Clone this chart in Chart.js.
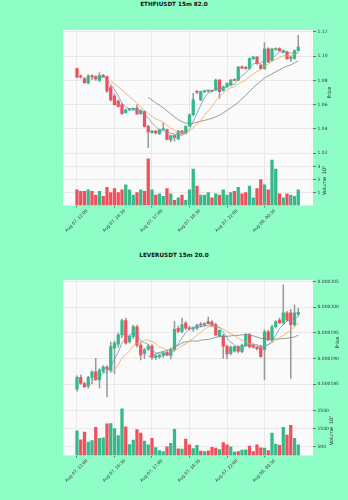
<!DOCTYPE html>
<html>
<head>
<meta charset="utf-8">
<script src="https://cdn.jsdelivr.net/npm/chart.js@4.4.1/dist/chart.umd.min.js"></script>
<style>
  body { margin: 0; width: 348px; height: 500px; overflow: hidden; background: #8ffdc6; position: relative; font-family: 'DejaVu Sans', sans-serif; }
  .fig { position: absolute; left: 0; width: 348px; height: 250px; }
  .fig canvas { position: absolute; left: 0; top: 0; }
  .title { position: absolute; left: 0; width: 348px; text-align: center; font-weight: bold; font-size: 5.7px; color: #111; }
</style>
</head>
<body>
<div class="fig" style="top:0"><div class="title" style="top:1px">ETHFIUSDT 15m 82.0</div><canvas id="eth" width="348" height="250"></canvas></div>
<div class="fig" style="top:250px"><div class="title" style="top:2px">LEVERUSDT 15m 20.0</div><canvas id="lever" width="348" height="250"></canvas></div>
<script>
const UP = '#35b88a', DOWN = '#f0505c', WICK = '#9a9a9a';
const MA_PERIODS = [5, 10, 20];
const MA_COLORS = ['#5f9cc2', '#f2a55a', '#6e8b80'];

const TICK_POS = [0, 10, 20, 30, 40, 50];
const TICK_LABELS = ['Aug 07, 12:00', 'Aug 07, 14:30', 'Aug 07, 17:00', 'Aug 07, 19:30', 'Aug 07, 22:00', 'Aug 08, 00:30'];

// ETHFIUSDT
const ETH_OPEN = [1.0896,1.0835,1.0815,1.0778,1.0838,1.0830,1.0800,1.0842,1.0830,1.0740,
  1.0670,1.0630,1.0600,1.0535,1.0556,1.0560,1.0571,1.0525,1.0544,1.0422,
  1.0370,1.0382,1.0360,1.0395,1.0395,1.0310,1.0345,1.0318,1.0382,1.0365,
  1.0425,1.0517,1.0710,1.0640,1.0705,1.0712,1.0716,1.0720,1.0802,1.0718,
  1.0747,1.0762,1.0806,1.0802,1.0912,1.0905,1.0898,1.0978,1.0991,1.0925,
  1.0896,1.1059,1.0964,1.1052,1.1062,1.1032,1.1032,1.0978,1.0980,1.1045];
const ETH_HIGH = [1.0902,1.0845,1.0822,1.0848,1.0845,1.0838,1.0862,1.0850,1.0835,1.0760,
  1.0690,1.0640,1.0610,1.0565,1.0570,1.0575,1.0598,1.0560,1.0550,1.0430,
  1.0388,1.0390,1.0400,1.0449,1.0400,1.0350,1.0355,1.0390,1.0388,1.0428,
  1.0525,1.0693,1.0718,1.0712,1.0720,1.0722,1.0722,1.0810,1.0808,1.0752,
  1.0780,1.0808,1.0812,1.0915,1.0920,1.0915,1.0985,1.1000,1.0998,1.0932,
  1.1110,1.1070,1.1065,1.1068,1.1070,1.1050,1.1040,1.0998,1.1050,1.1170];
const ETH_LOW = [1.0820,1.0818,1.0775,1.0770,1.0805,1.0800,1.0790,1.0825,1.0700,1.0630,
  1.0595,1.0580,1.0520,1.0530,1.0550,1.0555,1.0518,1.0520,1.0418,1.0246,
  1.0365,1.0360,1.0355,1.0390,1.0310,1.0295,1.0300,1.0312,1.0358,1.0360,
  1.0420,1.0510,1.0690,1.0635,1.0700,1.0705,1.0705,1.0715,1.0653,1.0710,
  1.0740,1.0755,1.0795,1.0798,1.0895,1.0890,1.0892,1.0970,1.0930,1.0890,
  1.0890,1.0945,1.0958,1.1048,1.1040,1.1025,1.0972,1.0955,1.0975,1.1040];
const ETH_CLOSE = [1.0826,1.0828,1.0780,1.0835,1.0830,1.0812,1.0842,1.0830,1.0710,1.0640,
  1.0600,1.0585,1.0525,1.0555,1.0566,1.0570,1.0523,1.0550,1.0422,1.0376,
  1.0382,1.0368,1.0395,1.0403,1.0314,1.0345,1.0330,1.0382,1.0362,1.0420,
  1.0517,1.0639,1.0702,1.0707,1.0715,1.0718,1.0710,1.0802,1.0707,1.0747,
  1.0775,1.0802,1.0800,1.0910,1.0900,1.0898,1.0978,1.0991,1.0937,1.0896,
  1.1059,1.0951,1.1059,1.1060,1.1045,1.1045,1.0978,1.0992,1.1045,1.1073];
const ETH_VOLUME = [1.2,1.1,1.1,1.2,1.1,0.8,1.1,0.7,1.4,1.0,
  1.3,1.0,1.2,1.6,1.2,0.8,1.0,1.2,1.1,3.6,
  1.2,0.8,0.9,0.7,1.3,0.9,0.4,0.6,0.8,0.4,
  1.2,2.8,1.5,0.8,0.8,1.0,0.6,0.9,0.8,1.2,
  0.8,1.0,1.1,1.4,0.9,1.0,1.5,0.6,1.3,2.0,
  1.6,1.2,3.5,2.8,0.9,0.6,0.9,0.8,0.7,1.2];
const ETH_PRICE_TICKS = [1.02, 1.04, 1.06, 1.08, 1.10, 1.12];
const ETH_PRICE_LABELS = ['1.02', '1.04', '1.06', '1.08', '1.10', '1.12'];
const ETH_VOL_TICKS = [1, 2, 3];
const ETH_VOL_LABELS = ['1', '2', '3'];

// LEVERUSDT (prices in 1e-6)
const LEVER_OPEN = [184.0,186.3,185.1,184.6,186.3,187.4,185.8,187.5,188.3,187.7,
  192.0,192.8,194.6,197.4,193.3,194.3,196.2,192.6,191.0,191.8,
  192.4,190.2,190.3,190.6,191.2,190.6,191.7,195.9,195.3,196.9,
  196.0,195.8,195.9,196.7,196.5,197.2,197.1,196.6,194.4,194.4,
  192.4,191.0,191.4,192.3,191.3,192.5,194.6,192.6,192.3,192.3,
  191.7,195.2,193.6,196.2,197.5,197.0,198.9,198.9,196.6,198.6];
const LEVER_HIGH = [186.6,186.8,185.4,186.5,187.6,190.0,188.0,188.6,188.6,193.2,
  193.4,195.0,197.7,197.9,194.6,196.5,196.5,193.0,192.0,192.7,
  192.7,190.7,190.8,191.3,191.5,192.0,197.3,196.3,197.9,197.2,
  196.3,196.2,196.7,197.0,197.0,198.1,197.4,196.9,195.6,194.7,
  192.6,192.4,192.4,192.5,192.8,194.8,194.9,192.9,192.4,192.6,
  195.6,195.5,196.5,197.4,197.9,204.4,199.2,199.6,200.5,199.8];
const LEVER_LOW = [183.6,184.9,184.3,184.2,185.0,185.7,184.2,187.2,182.5,187.3,
  187.0,192.2,194.0,192.8,193.0,193.9,192.2,189.7,190.0,191.5,
  189.8,189.8,190.0,190.2,190.5,189.9,191.4,195.0,195.0,195.6,
  195.5,195.3,195.6,196.2,196.3,196.8,196.3,194.4,194.2,190.0,
  189.9,190.7,191.2,191.1,191.1,192.3,192.0,192.0,191.6,190.2,
  185.8,193.4,193.3,195.9,196.8,196.6,197.3,186.1,196.3,198.3];
const LEVER_CLOSE = [186.3,185.1,184.5,186.3,187.4,185.9,187.7,188.3,187.9,192.3,
  193.0,194.6,197.4,193.0,194.3,196.2,192.6,190.7,191.7,192.4,
  190.2,190.5,190.6,191.1,190.7,191.7,195.7,195.3,196.6,195.9,
  195.8,196.0,196.5,196.5,196.8,196.8,196.5,194.6,195.5,192.4,
  190.9,192.2,192.3,191.4,192.6,194.6,192.3,192.2,191.9,190.4,
  195.2,193.6,196.2,197.2,197.0,198.9,197.5,196.6,198.9,199.0];
const LEVER_VOLUME = [1370,870,1300,740,830,1570,960,980,1760,1780,
  1500,1110,2590,1590,610,850,1440,1240,800,590,
  960,440,280,220,480,670,1460,370,350,910,
  590,390,560,240,220,260,460,410,330,720,
  590,480,190,220,300,310,520,220,590,430,
  410,280,1240,630,560,1560,1130,1670,960,590];
const LEVER_PRICE_TICKS = [185, 190, 195, 200, 205];
const LEVER_PRICE_LABELS = ['0.000185', '0.000190', '0.000195', '0.000200', '0.000205'];
const LEVER_VOL_TICKS = [500, 1000, 1500, 2000, 2500];
const LEVER_VOL_LABELS = ['500', '1000', '1500', '2000', '2500'];

Chart.defaults.font.family = "'DejaVu Sans', sans-serif";

function sma(values, p) {
    return values.map((_, i) => {
        if (i < p - 1) return null;
        let s = 0;
        for (let k = i - p + 1; k <= i; k++) s += values[k];
        return s / p;
    });
}

const panelBg = {
    id: 'panelBg',
    beforeDraw(chart) {
        const {ctx, chartArea: a} = chart;
        ctx.save();
        ctx.fillStyle = '#fafafa';
        ctx.fillRect(a.left, a.top, a.right - a.left, a.bottom - a.top);
        ctx.restore();
    }
};

const axisTitles = {
    id: 'axisTitles',
    afterDraw(chart, args, opts) {
        const {ctx, scales} = chart;
        ctx.save();
        ctx.fillStyle = '#222';
        ctx.font = "4.8px 'DejaVu Sans'";
        ctx.textAlign = 'center';
        ctx.textBaseline = 'middle';
        opts.items.forEach(it => {
            const sc = scales[it.axis];
            ctx.save();
            ctx.translate(it.x, (sc.top + sc.bottom) / 2);
            ctx.rotate(-Math.PI / 2);
            ctx.fillText(it.text, 0, 0);
            ctx.restore();
        });
        ctx.restore();
    }
};

function drawFigure(id, s) {
    const idx = s.close.map((_, i) => i);
    const colors = idx.map(i => s.close[i] >= s.open[i] ? UP : DOWN);
    const grid = {color: '#e4e4e4', lineWidth: 0.8, tickLength: 3, tickColor: '#555'};

    const datasets = MA_PERIODS.map((p, k) => ({
        type: 'line', yAxisID: 'price', order: 0,
        data: sma(s.close, p).map((v, i) => ({x: i, y: v})),
        borderColor: MA_COLORS[k], borderWidth: 0.8, pointRadius: 0, fill: false
    }));
    datasets.push({
        type: 'bar', yAxisID: 'price', order: 1, grouped: false, barThickness: 2.6, minBarLength: 1,
        data: idx.map(i => ({x: i, y: [s.open[i], s.close[i]]})),
        backgroundColor: colors
    });
    datasets.push({
        type: 'bar', yAxisID: 'price', order: 2, grouped: false, barThickness: 0.9,
        data: idx.map(i => ({x: i, y: [s.low[i], s.high[i]]})),
        backgroundColor: WICK
    });
    datasets.push({
        type: 'bar', yAxisID: 'vol', order: 1, grouped: false, barThickness: 2.6,
        data: idx.map(i => ({x: i, y: s.volume[i]})),
        backgroundColor: colors
    });

    new Chart(document.getElementById(id), {
        type: 'bar',
        data: {datasets},
        plugins: [panelBg, axisTitles],
        options: {
            responsive: false,
            animation: false,
            devicePixelRatio: 1,
            layout: {padding: {left: 63, top: 30, right: 0, bottom: 0}},
            plugins: {
                legend: {display: false},
                tooltip: {enabled: false},
                axisTitles: {items: [
                    {axis: 'price', text: 'Price', x: s.priceTitleX},
                    {axis: 'vol', text: 'Volume  10\u2077', x: s.volTitleX}
                ]}
            },
            scales: {
                x: {
                    type: 'linear', min: -3.73, max: 62.93, offset: false,
                    afterBuildTicks: sc => { sc.ticks = TICK_POS.map(v => ({value: v})); },
                    afterFit: sc => { sc.height = 44.5; },
                    ticks: {
                        autoSkip: false, minRotation: 45, maxRotation: 45, labelOffset: 10, padding: 1,
                        font: {size: 4.2}, color: '#333',
                        callback: v => TICK_LABELS[TICK_POS.indexOf(v)]
                    },
                    grid: Object.assign({offset: false}, grid, {tickLength: 2}),
                    border: {display: false}
                },
                price: {
                    type: 'linear', position: 'right', stack: 'panels', stackWeight: 2.51,
                    min: s.priceMin, max: s.priceMax,
                    afterBuildTicks: sc => { sc.ticks = s.priceTicks.map(v => ({value: v})); },
                    afterFit: sc => { sc.width = 35; },
                    ticks: {font: {size: 4.5}, color: '#333', padding: 1.5,
                        callback: v => s.priceLabels[s.priceTicks.indexOf(v)]},
                    grid: grid,
                    border: {display: false}
                },
                vol: {
                    type: 'linear', position: 'right', stack: 'panels', stackWeight: 1,
                    min: 0, max: s.volMax,
                    afterBuildTicks: sc => { sc.ticks = s.volTicks.map(v => ({value: v})); },
                    afterFit: sc => { sc.width = 35; },
                    ticks: {font: {size: 4.5}, color: '#333', padding: 1.5,
                        callback: v => s.volLabels[s.volTicks.indexOf(v)]},
                    grid: grid,
                    border: {display: false}
                }
            }
        }
    });
}

drawFigure('eth', {
    open: ETH_OPEN, high: ETH_HIGH, low: ETH_LOW, close: ETH_CLOSE, volume: ETH_VOLUME,
    priceMin: 1.0182, priceMax: 1.1214, priceTicks: ETH_PRICE_TICKS, priceLabels: ETH_PRICE_LABELS,
    volMax: 3.85, volTicks: ETH_VOL_TICKS, volLabels: ETH_VOL_LABELS,
    priceTitleX: 330, volTitleX: 325
});

drawFigure('lever', {
    open: LEVER_OPEN, high: LEVER_HIGH, low: LEVER_LOW, close: LEVER_CLOSE, volume: LEVER_VOLUME,
    priceMin: 180.8, priceMax: 205.33, priceTicks: LEVER_PRICE_TICKS, priceLabels: LEVER_PRICE_LABELS,
    volMax: 2778, volTicks: LEVER_VOL_TICKS, volLabels: LEVER_VOL_LABELS,
    priceTitleX: 338, volTitleX: 332
});
</script>
</body>
</html>
